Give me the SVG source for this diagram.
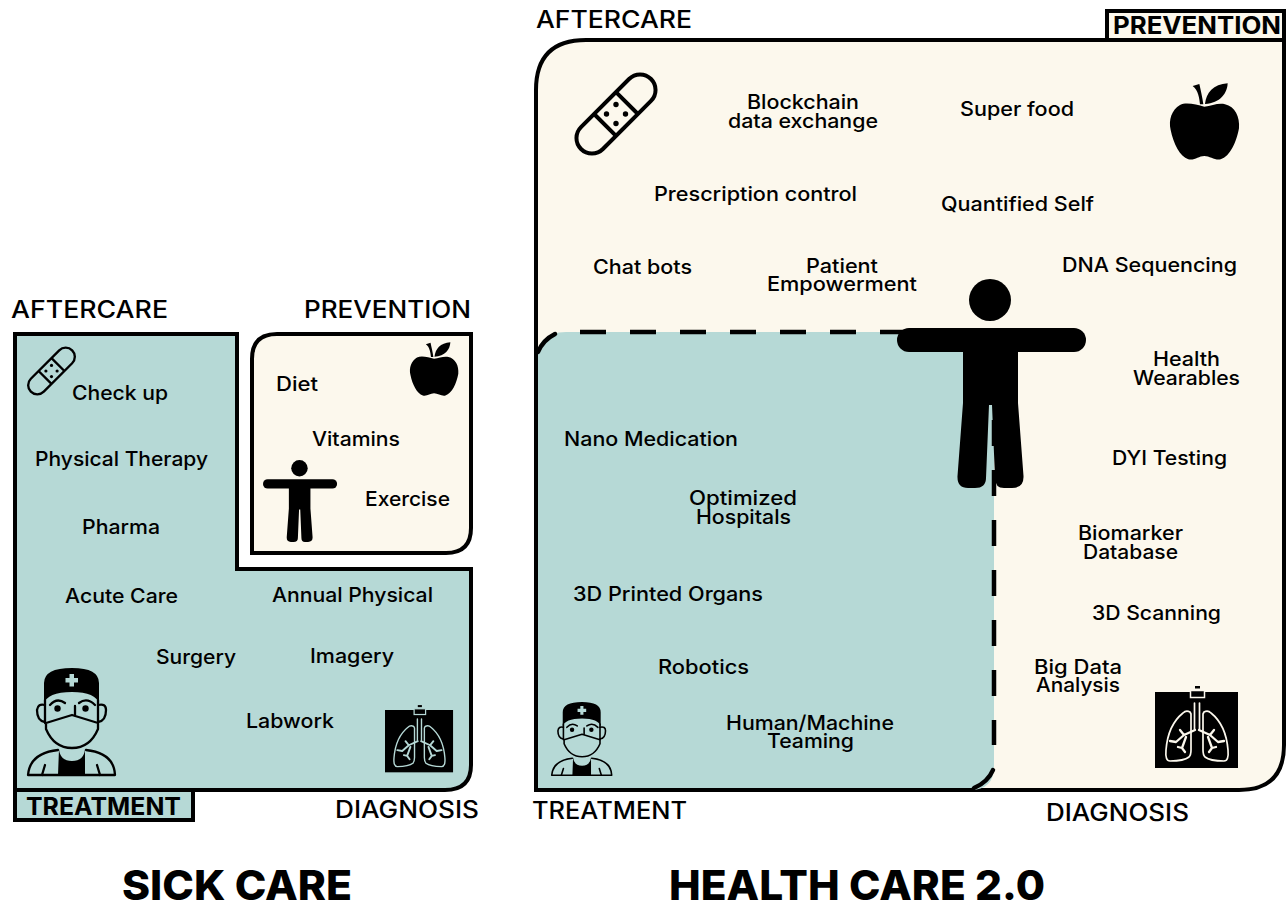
<svg xmlns="http://www.w3.org/2000/svg" width="1288" height="905" viewBox="0 0 1288 905">
<style>
text{font-family:"Inter","Noto Sans","DejaVu Sans",sans-serif;fill:#000;text-anchor:start}
.l{font-size:20px;font-weight:500}
.h{font-size:24px;font-weight:500}
.hb{font-size:24px;font-weight:700}
.t{font-size:41px;font-weight:800}
.teal{fill:#b6d9d6}
.cream{fill:#fcf8ed}
.edge{stroke:#000;stroke-width:4;stroke-linejoin:miter}
.dash{fill:none;stroke:#000;stroke-width:4.5;stroke-dasharray:26 24}
.arc{fill:none;stroke:#000;stroke-width:4.5;stroke-linecap:round}
.ln{fill:none;stroke:#000;stroke-width:2.3;stroke-linecap:round;stroke-linejoin:round}
.lg{fill:none;stroke:currentColor;stroke-width:1.7;stroke-linecap:round;stroke-linejoin:round}
.br{fill:none;stroke:currentColor;stroke-width:2.3;stroke-linecap:round;stroke-linejoin:round}
</style>
<defs>
<g id="doctor">
<path d="M44 704V683Q44 668 72 668Q99 668 99 683V704Q96 692 72 692Q47 692 44 704Z" fill="#000"/>
<path d="M69.500 674h4.500v4h4v4.500h-4v4h-4.500v-4h-4v-4.500h4z" class="teal"/>
<path class="ln" d="M45 700V723M98 700V723"/>
<path class="ln" d="M45 705Q38 703 37 710Q37 721 45 722M98 705Q106 703 106 710Q106 721 98 722"/>
<path class="ln" d="M46 723L72 715L98 723V729Q90 748 72 748Q54 748 46 729Z"/>
<path class="ln" d="M50 705Q57 697 65 703M79 703Q87 697 95 705M75 706V715"/>
<circle cx="57.500" cy="708.500" r="3.200"/><circle cx="85.500" cy="708.500" r="3.200"/>
<path class="ln" d="M28 775H115Q114 753 86 750M28 775Q30 753 58 750"/>
<path d="M59 749Q60 761 72 761Q84 761 85 749L85 775H58Z" fill="#000"/>
<path class="ln" d="M42 775L45 765M100 775L97 765"/>
</g>
<g id="lungs">
<rect x="1155" y="692" width="83" height="76" fill="#000"/>
<rect x="1190.500" y="690.500" width="14" height="7" fill="#000" stroke="currentColor" stroke-width="1.500"/>
<rect x="1195" y="686" width="5" height="2.500" fill="#000"/>
<path class="lg" d="M1194.500 703V729M1199.500 703V729"/>
<path class="lg" d="M1190 712Q1186 710 1183 713Q1168 725 1166 750Q1165 761 1170 761Q1184 761 1189 757Q1191 755 1191 750V714Z"/>
<path class="lg" d="M1204 712Q1208 710 1211 713Q1226 725 1228 750Q1229 761 1224 761Q1210 761 1205 757Q1203 755 1203 750V714Z"/>
<path class="br" d="M1195 730L1184 735L1176 742L1170 741M1184 735L1180 730M1186 737L1182 748L1185 752M1182 748L1178 747"/>
<path class="br" d="M1199 730L1210 735L1218 742L1224 741M1210 735L1214 730M1208 737L1212 748L1209 752M1212 748L1216 747"/>
</g>
<g id="bandaid">
<g fill="none" stroke="#000" stroke-width="4" transform="translate(616 114) rotate(-45)">
<rect x="-49.500" y="-15.500" width="99" height="31" rx="15.500"/>
<path d="M-15.500 -15.500V15.500M15.500 -15.500V15.500"/>
</g>
<g><circle cx="616" cy="104.500" r="2.700"/><circle cx="616" cy="123.500" r="2.700"/><circle cx="606.500" cy="114" r="2.700"/><circle cx="625.500" cy="114" r="2.700"/></g>
</g>
<g id="apple" transform="scale(.3333)">
<path d="M163 110C140 105 110 95 90 105C65 120 55 150 62 180C70 220 90 260 115 268C135 272 145 258 163 258C180 258 195 272 212 268C240 260 260 215 267 175C270 140 255 110 225 103C205 98 185 108 163 110Z"/>
<path d="M128 48L148 42C152 60 158 85 160 103L150 103C148 85 145 60 128 48Z"/>
<path d="M165 102C168 70 190 42 233 40C232 70 210 100 165 102Z"/>
</g>
<g id="person">
<circle cx="990" cy="300" r="21"/>
<rect x="897" y="328" width="189" height="24" rx="12"/>
<path d="M963 340H1018V403L1023.500 476Q1024 488 1012 488H1004Q995 488 995 478L992 405H989L986 478Q986 488 975 488H968Q957 488 957.500 476L963 403Z"/>
</g>
</defs>

<g id="sick-care">
<g id="sick-main"><path class="teal edge" d="M15 334H237V569H471V765Q471 790 445 790H15Z"/></g>
<g id="sick-prevention"><path class="cream edge" d="M252 359Q252 334 277 334H471V528Q471 553 446 553H252Z"/></g>
<g id="sick-treatment-tab"><rect class="teal edge" x="15" y="790" width="178" height="30"/><text class="hb" x="26" y="815" textLength="155" lengthAdjust="spacingAndGlyphs">TREATMENT</text></g>
<use href="#bandaid" transform="translate(51.500 371) scale(.59) translate(-616 -114)"/>
<use href="#apple" transform="translate(396 333) scale(.7)"/>
<use href="#person" transform="translate(263 460) scale(.392) translate(-897 -279)"/>
<use href="#doctor"/>
<use href="#lungs" color="#b6d9d6" transform="translate(385 710) scale(.82) translate(-1155 -692)"/>
</g>

<g id="health-care">
<g id="health-main"><path class="cream edge" d="M536 790V90Q536 40 586 40H1284V745Q1284 790 1239 790Z"/></g>
<g id="health-treatment"><path class="teal" d="M536 790V362Q536 332 566 332H994V766Q994 790 970 790Z"/><path class="edge" fill="none" d="M536 790V345M536 790H975"/></g>
<g id="health-prevention-tab"><rect class="cream edge" x="1107" y="11" width="177" height="29"/><text class="hb" x="1113" y="34" textLength="168" lengthAdjust="spacingAndGlyphs">PREVENTION</text></g>
</g>
<g id="connectors">
<path class="arc" d="M538 352Q543 340 555 334"/>
<path class="dash" d="M580 332H910"/>
<path class="dash" d="M994 420V745"/>
<path class="arc" d="M993 770Q988 782 974 788"/>
</g>
<g id="health-icons">
<use href="#bandaid"/>
<use href="#apple" transform="translate(1150 70)"/>
<use href="#person"/>
<use href="#doctor" transform="translate(551 702) scale(.69 .685) translate(-27 -668)"/>
<use href="#lungs" color="#fcf8ed"/>
</g>

<g id="labels">
<text class="h" x="11" y="318" textLength="157" lengthAdjust="spacingAndGlyphs">AFTERCARE</text>
<text class="h" x="304" y="318" textLength="167" lengthAdjust="spacingAndGlyphs">PREVENTION</text>
<text class="h" x="335" y="818" textLength="144" lengthAdjust="spacingAndGlyphs">DIAGNOSIS</text>
<text class="l" x="72" y="400" textLength="96" lengthAdjust="spacingAndGlyphs">Check up</text>
<text class="l" x="35" y="466" textLength="173" lengthAdjust="spacingAndGlyphs">Physical Therapy</text>
<text class="l" x="82" y="534" textLength="78" lengthAdjust="spacingAndGlyphs">Pharma</text>
<text class="l" x="65" y="603" textLength="113" lengthAdjust="spacingAndGlyphs">Acute Care</text>
<text class="l" x="272" y="602" textLength="161" lengthAdjust="spacingAndGlyphs">Annual Physical</text>
<text class="l" x="156" y="664" textLength="80" lengthAdjust="spacingAndGlyphs">Surgery</text>
<text class="l" x="310" y="663" textLength="84" lengthAdjust="spacingAndGlyphs">Imagery</text>
<text class="l" x="246" y="728" textLength="88" lengthAdjust="spacingAndGlyphs">Labwork</text>
<text class="l" x="276" y="391" textLength="42" lengthAdjust="spacingAndGlyphs">Diet</text>
<text class="l" x="312" y="446" textLength="88" lengthAdjust="spacingAndGlyphs">Vitamins</text>
<text class="l" x="365" y="506" textLength="85" lengthAdjust="spacingAndGlyphs">Exercise</text>
<text class="t" x="122" y="900" textLength="230" lengthAdjust="spacingAndGlyphs">SICK CARE</text>

<text class="h" x="536" y="28" textLength="156" lengthAdjust="spacingAndGlyphs">AFTERCARE</text>
<text class="h" x="532" y="819" textLength="155" lengthAdjust="spacingAndGlyphs">TREATMENT</text>
<text class="h" x="1046" y="821" textLength="143" lengthAdjust="spacingAndGlyphs">DIAGNOSIS</text>
<text class="l" x="747" y="109" textLength="112" lengthAdjust="spacingAndGlyphs">Blockchain</text>
<text class="l" x="728" y="128" textLength="150" lengthAdjust="spacingAndGlyphs">data exchange</text>
<text class="l" x="960" y="116" textLength="114" lengthAdjust="spacingAndGlyphs">Super food</text>
<text class="l" x="654" y="201" textLength="203" lengthAdjust="spacingAndGlyphs">Prescription control</text>
<text class="l" x="941" y="211" textLength="153" lengthAdjust="spacingAndGlyphs">Quantified Self</text>
<text class="l" x="593" y="274" textLength="99" lengthAdjust="spacingAndGlyphs">Chat bots</text>
<text class="l" x="806" y="273" textLength="72" lengthAdjust="spacingAndGlyphs">Patient</text>
<text class="l" x="767" y="291" textLength="150" lengthAdjust="spacingAndGlyphs">Empowerment</text>
<text class="l" x="1062" y="272" textLength="175" lengthAdjust="spacingAndGlyphs">DNA Sequencing</text>
<text class="l" x="1153" y="366" textLength="67" lengthAdjust="spacingAndGlyphs">Health</text>
<text class="l" x="1133" y="385" textLength="107" lengthAdjust="spacingAndGlyphs">Wearables</text>
<text class="l" x="1112" y="465" textLength="115" lengthAdjust="spacingAndGlyphs">DYI Testing</text>
<text class="l" x="1078" y="540" textLength="105" lengthAdjust="spacingAndGlyphs">Biomarker</text>
<text class="l" x="1083" y="559" textLength="95" lengthAdjust="spacingAndGlyphs">Database</text>
<text class="l" x="1092" y="620" textLength="129" lengthAdjust="spacingAndGlyphs">3D Scanning</text>
<text class="l" x="1034" y="674" textLength="88" lengthAdjust="spacingAndGlyphs">Big Data</text>
<text class="l" x="1036" y="692" textLength="84" lengthAdjust="spacingAndGlyphs">Analysis</text>
<text class="l" x="564" y="446" textLength="174" lengthAdjust="spacingAndGlyphs">Nano Medication</text>
<text class="l" x="689" y="505" textLength="108" lengthAdjust="spacingAndGlyphs">Optimized</text>
<text class="l" x="696" y="524" textLength="95" lengthAdjust="spacingAndGlyphs">Hospitals</text>
<text class="l" x="573" y="601" textLength="190" lengthAdjust="spacingAndGlyphs">3D Printed Organs</text>
<text class="l" x="658" y="674" textLength="91" lengthAdjust="spacingAndGlyphs">Robotics</text>
<text class="l" x="726" y="730" textLength="168" lengthAdjust="spacingAndGlyphs">Human/Machine</text>
<text class="l" x="767" y="748" textLength="87" lengthAdjust="spacingAndGlyphs">Teaming</text>
<text class="t" x="669" y="900" textLength="376" lengthAdjust="spacingAndGlyphs">HEALTH CARE 2.0</text>
</g>
</svg>
